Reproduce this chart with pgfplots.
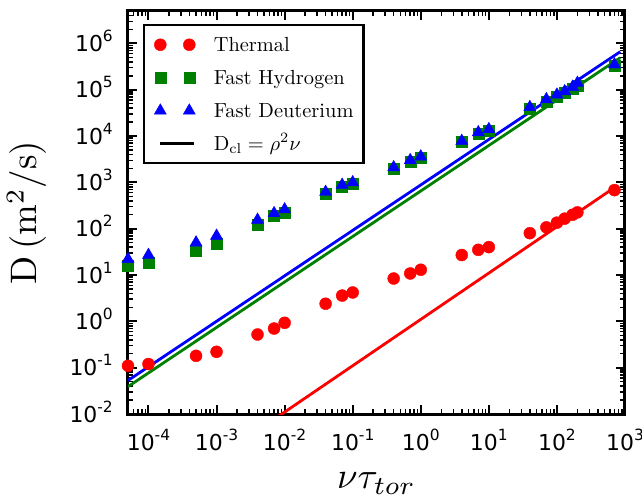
\documentclass[border=0pt]{standalone}
\usepackage{fontspec}
\usepackage{pgfplots}
\pgfplotsset{compat=1.18}
\newfontfamily\tickfont{DejaVu Sans}
\newcommand\tkl[1]{10\raisebox{0.45em}{\fontsize{15.5}{16}\selectfont #1}}
\newcommand\legtxt[1]{\scalebox{2.05}{#1}}
\definecolor{mred}{RGB}{255,0,0}
\definecolor{mgreen}{RGB}{0,128,0}
\definecolor{mblue}{RGB}{0,0,255}
\pgfplotsset{
  scatter legend/.style={legend image code/.code={\draw[##1,mark repeat=1] plot coordinates {(0bp,0bp) (29bp,0bp)};}},
  line legend entry/.style={legend image code/.code={\draw[##1] (0bp,0bp) -- (34bp,0bp);}},
}

\pgfplotstableread{
x y
5e-5 0.11
1e-4 0.12
5e-4 0.18
1e-3 0.22
4e-3 0.52
7e-3 0.70
1e-2 0.93
4e-2 2.4
7e-2 3.6
1e-1 4.2
0.4 8.4
0.7 10.8
1 13
4 27
7 35
10 40
40 80
70 107
100 135
130 165
170 200
200 225
700 680
}\thermal

\pgfplotstableread{
x y
5e-5 16
1e-4 18
5e-4 34
1e-3 48
4e-3 125
7e-3 195
1e-2 220
4e-2 580
7e-2 800
1e-1 950
0.4 2000
0.7 2800
1 3400
4 7500
7 11000
10 13000
40 38000
70 56000
100 72000
130 85000
170 105000
200 125000
700 330000
}\hydrogen

\pgfplotstableread{
x y
5e-5 22
1e-4 27
5e-4 50
1e-3 70
4e-3 155
7e-3 215
1e-2 260
4e-2 620
7e-2 880
1e-1 1000
0.4 2100
0.7 3000
1 3600
4 7800
7 12000
10 14000
40 42000
70 62000
100 78000
130 92000
170 115000
200 140000
700 350000
}\deuterium

\begin{document}
\begin{tikzpicture}
\begin{axis}[
  xmode=log, ymode=log,
  scale only axis, width=497bp, height=403bp,
  xmin=5e-5, xmax=1e3, ymin=1e-2, ymax=5e6,
  axis line style={line width=3bp},
  major tick length=9bp, minor tick length=5bp,
  every major tick/.style={black, line width=2bp},
  every minor tick/.style={black, line width=1.5bp},
  xtick={1e-4,1e-3,1e-2,1e-1,1,1e1,1e2,1e3},
  xticklabels={\tkl{-4},\tkl{-3},\tkl{-2},\tkl{-1},\tkl{0},\tkl{1},\tkl{2},\tkl{3}},
  minor xtick={5e-5,6e-5,7e-5,8e-5,9e-5,
    2e-4,3e-4,4e-4,5e-4,6e-4,7e-4,8e-4,9e-4,
    2e-3,3e-3,4e-3,5e-3,6e-3,7e-3,8e-3,9e-3,
    2e-2,3e-2,4e-2,5e-2,6e-2,7e-2,8e-2,9e-2,
    2e-1,3e-1,4e-1,5e-1,6e-1,7e-1,8e-1,9e-1,
    2,3,4,5,6,7,8,9,
    20,30,40,50,60,70,80,90,
    200,300,400,500,600,700,800,900},
  ytick={1e-2,1e-1,1,1e1,1e2,1e3,1e4,1e5,1e6},
  yticklabels={\tkl{-2},\tkl{-1},\tkl{0},\tkl{1},\tkl{2},\tkl{3},\tkl{4},\tkl{5},\tkl{6}},
  minor ytick={2e-2,3e-2,4e-2,5e-2,6e-2,7e-2,8e-2,9e-2,
    2e-1,3e-1,4e-1,5e-1,6e-1,7e-1,8e-1,9e-1,
    2,3,4,5,6,7,8,9,
    20,30,40,50,60,70,80,90,
    200,300,400,500,600,700,800,900,
    2e3,3e3,4e3,5e3,6e3,7e3,8e3,9e3,
    2e4,3e4,4e4,5e4,6e4,7e4,8e4,9e4,
    2e5,3e5,4e5,5e5,6e5,7e5,8e5,9e5,
    2e6,3e6,4e6,5e6},
  x tick label style={font=\tickfont\fontsize{22}{24}\selectfont, anchor=base, inner sep=0bp, yshift=-36bp},
  y tick label style={font=\tickfont\fontsize{22}{24}\selectfont, anchor=base east, inner sep=0bp, xshift=-15bp, yshift=-8bp},
  xlabel={\scalebox{3.7}{$\nu\tau_{tor}$}},
  ylabel={\scalebox{3.7}{$\mathrm{D}\,(\mathrm{m}^2/\mathrm{s})$}},
  xlabel style={font=\fontsize{10}{12}\selectfont, at={(axis description cs:0.5,-0.186)}, anchor=base},
  ylabel style={font=\fontsize{10}{12}\selectfont, at={(axis description cs:-0.1831,0.5)}, anchor=base},
  legend style={at={(axis description cs:0,1)}, anchor=north west, xshift=15bp, yshift=-13bp,
    draw=black, line width=2.5bp, font=\fontsize{10}{12}\selectfont,
    inner xsep=10bp, inner ysep=10bp, column sep=18bp, row sep=14bp,
    nodes={inner sep=0bp, text height=16bp, text depth=3bp}},
  legend cell align=left,
]
\addplot[only marks, mark=*, color=mred, line width=0.4bp, mark size=6bp, scatter legend] table[x=x,y=y] {\thermal};
\addlegendentry{\legtxt{Thermal}}
\addplot[only marks, mark=square*, color=mgreen, line width=0.4bp, mark size=5.5bp, scatter legend] table[x=x,y=y] {\hydrogen};
\addlegendentry{\legtxt{Fast Hydrogen}}
\addplot[only marks, mark=triangle*, color=mblue, line width=0.4bp, mark size=7bp, scatter legend] table[x=x,y=y] {\deuterium};
\addlegendentry{\legtxt{Fast Deuterium}}
\addlegendimage{black, line width=3bp, line legend entry}
\addlegendentry{\legtxt{$\mathrm{D}_{\mathrm{cl}}=\rho^2\nu$}}
\addplot[mred, line width=2.8bp, forget plot] coordinates {(5e-5,5.5e-5) (770,850)};
\addplot[mgreen, line width=2.8bp, forget plot] coordinates {(5e-5,0.039) (850,4.9e5)};
\addplot[mblue, line width=2.8bp, forget plot] coordinates {(5e-5,0.053) (850,6.6e5)};
\end{axis}
\pgfresetboundingbox
\path (current axis.south west) ++(-128bp,-90bp) rectangle ++(642bp,504bp);
\end{tikzpicture}
\end{document}
